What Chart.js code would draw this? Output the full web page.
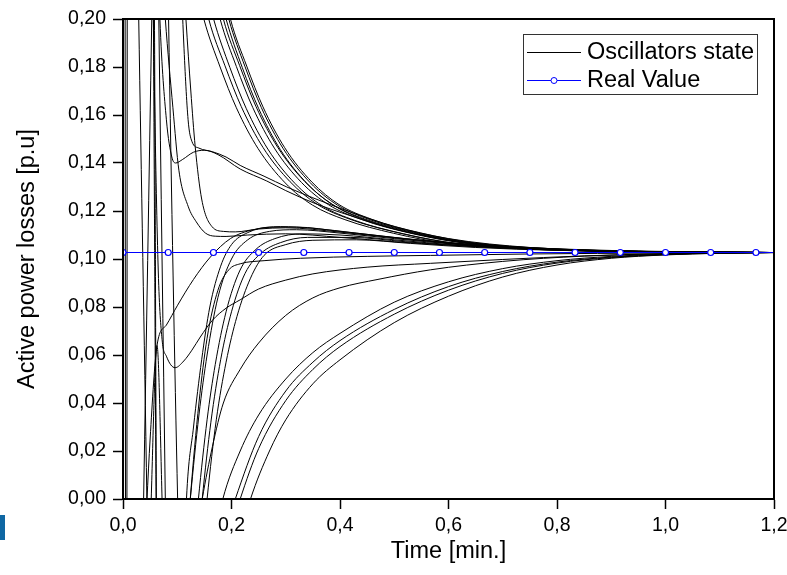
<!DOCTYPE html>
<html>
<head>
<meta charset="utf-8">
<script src="https://cdn.jsdelivr.net/npm/chart.js@4.4.1/dist/chart.umd.min.js"></script>
<style>
  html, body { margin: 0; padding: 0; background: #fff; }
  #wrap { position: relative; width: 787px; height: 575px; }
  #mark { position: absolute; left: 0; top: 515px; width: 5px; height: 25px; background: #0f67a3; }
</style>
</head>
<body>
<div id="wrap">
  <canvas id="chart" width="787" height="575"></canvas>
  <div id="mark"></div>
</div>
<script>
// time [min] / active power losses [p.u] pairs

// Real Value (one marker every 5 s)
const realTimes = [0, 0.0833, 0.1667, 0.25, 0.3333, 0.4167, 0.5, 0.5833, 0.6667, 0.75, 0.8333, 0.9167, 1.0, 1.0833, 1.1667, 1.2];
const realValues = [0.1027, 0.1027, 0.1027, 0.1027, 0.1027, 0.1027, 0.1027, 0.1027, 0.1027, 0.1027, 0.1027, 0.1027, 0.1027, 0.1027, 0.1027, 0.1027];

// curves coming down from above
const upperCurves = [
  [[0.099,0.251],[0.129,0.220],[0.149,0.200],[0.179,0.180],[0.209,0.163],[0.249,0.146],[0.299,0.1317],[0.349,0.1225],[0.409,0.1164],[0.499,0.1107],[0.599,0.1065],[0.749,0.1041],[0.949,0.1030],[1.2,0.1027]],
  [[0.108,0.252],[0.138,0.221],[0.158,0.200],[0.188,0.1805],[0.218,0.1635],[0.258,0.1465],[0.308,0.1322],[0.358,0.1228],[0.418,0.1166],[0.508,0.1109],[0.608,0.1066],[0.758,0.1042],[0.958,0.1030],[1.2,0.1027]],
  [[0.117,0.250],[0.147,0.219],[0.167,0.200],[0.197,0.1798],[0.227,0.1628],[0.267,0.1458],[0.317,0.1315],[0.367,0.1222],[0.427,0.1161],[0.517,0.1105],[0.617,0.1064],[0.767,0.1040],[0.967,0.1030],[1.2,0.1027]],
  [[0.129,0.251],[0.159,0.220],[0.179,0.200],[0.209,0.1802],[0.239,0.1632],[0.279,0.1462],[0.329,0.1319],[0.379,0.1226],[0.439,0.1165],[0.529,0.1108],[0.629,0.1066],[0.779,0.1041],[0.979,0.1030],[1.2,0.1027]],
  [[0.135,0.252],[0.165,0.221],[0.185,0.200],[0.215,0.1806],[0.245,0.1636],[0.285,0.1466],[0.335,0.1323],[0.385,0.1229],[0.445,0.1167],[0.535,0.1110],[0.635,0.1067],[0.785,0.1042],[0.985,0.1030],[1.2,0.1027]],
  [[0.140,0.250],[0.170,0.219],[0.190,0.200],[0.220,0.1797],[0.250,0.1627],[0.290,0.1456],[0.340,0.1313],[0.390,0.1221],[0.450,0.1160],[0.540,0.1104],[0.640,0.1064],[0.790,0.1040],[0.990,0.1030],[1.2,0.1027]],
  [[0.145,0.251],[0.175,0.220],[0.195,0.200],[0.225,0.1801],[0.255,0.1631],[0.295,0.1461],[0.345,0.1318],[0.395,0.1225],[0.455,0.1164],[0.545,0.1107],[0.645,0.1066],[0.795,0.1041],[0.995,0.1030],[1.2,0.1027]],
  [[0.148,0.252],[0.178,0.221],[0.198,0.200],[0.228,0.1804],[0.258,0.1634],[0.298,0.1464],[0.348,0.1321],[0.398,0.1227],[0.458,0.1166],[0.548,0.1109],[0.648,0.1067],[0.798,0.1042],[0.998,0.1030],[1.2,0.1027]]
];

// the two curves with a bump near 0,145
const humpCurves = [
  [[0.055,0.30],[0.068,0.20],[0.08,0.158],[0.09,0.1425],[0.097,0.140],[0.11,0.1415],[0.13,0.1445],[0.15,0.1453],[0.175,0.1435],[0.216,0.1375],[0.265,0.1325],[0.3,0.1285],[0.35,0.1235],[0.42,0.118],[0.5,0.1125],[0.6,0.108],[0.75,0.1045],[0.95,0.1031],[1.2,0.1027]],
  [[0.1,0.26],[0.112,0.19],[0.12,0.158],[0.127,0.149],[0.14,0.1462],[0.165,0.1447],[0.19,0.1425],[0.216,0.139],[0.26,0.1345],[0.302,0.130],[0.35,0.1255],[0.42,0.1195],[0.5,0.1135],[0.6,0.1085],[0.75,0.1048],[0.95,0.1032],[1.2,0.1027]]
];

// falling onto the 0,11 shelf
const fallCurves = [
  [[0.055,0.28],[0.078,0.20],[0.092,0.163],[0.103,0.137],[0.12,0.122],[0.135,0.1155],[0.152,0.1108],[0.17,0.1095],[0.19,0.1094],[0.23,0.110],[0.3,0.1105],[0.4,0.109],[0.5,0.1072],[0.6,0.1058],[0.75,0.1043],[0.95,0.1032],[1.2,0.1027]],
  [[0.1,0.26],[0.116,0.20],[0.125,0.17],[0.133,0.147],[0.145,0.125],[0.164,0.1135],[0.185,0.1115],[0.207,0.1113],[0.25,0.1125],[0.3,0.113],[0.4,0.1112],[0.5,0.1088],[0.6,0.1068],[0.75,0.1047],[0.95,0.1033],[1.2,0.1027]]
];

// rising from below and overshooting
const overshootCurves = [
  [[0.038,-0.03],[0.05,0.025],[0.0627,0.064],[0.08,0.0725],[0.1,0.0805],[0.13,0.0915],[0.161,0.1008],[0.198,0.1085],[0.24,0.1122],[0.29,0.1135],[0.35,0.1128],[0.43,0.1108],[0.53,0.1082],[0.65,0.1057],[0.8,0.1039],[1.0,0.103],[1.2,0.1027]],
  [[0.08,0.26],[0.084,0.2],[0.1007,0.0],[0.108,-0.06],[0.117,0],[0.13,0.03],[0.145,0.058],[0.16,0.08],[0.18,0.097],[0.2,0.106],[0.23,0.111],[0.27,0.1132],[0.32,0.1133],[0.4,0.1115],[0.5,0.109],[0.62,0.1063],[0.78,0.1042],[1.0,0.103],[1.2,0.1027]],
  [[0.112,-0.03],[0.124,0],[0.14,0.035],[0.155,0.06],[0.175,0.084],[0.2,0.1],[0.23,0.108],[0.27,0.1115],[0.32,0.1122],[0.4,0.1108],[0.5,0.1085],[0.62,0.106],[0.78,0.1041],[1.0,0.103],[1.2,0.1027]],
  [[0.127,-0.03],[0.139,0],[0.155,0.033],[0.17,0.056],[0.19,0.078],[0.215,0.095],[0.245,0.104],[0.28,0.1085],[0.33,0.1105],[0.4,0.11],[0.5,0.108],[0.62,0.1057],[0.78,0.104],[1.0,0.103],[1.2,0.1027]],
  [[0.134,-0.03],[0.146,0],[0.162,0.032],[0.18,0.058],[0.2,0.078],[0.225,0.094],[0.255,0.1025],[0.29,0.1068],[0.34,0.109],[0.42,0.109],[0.52,0.1072],[0.64,0.1052],[0.8,0.1037],[1.0,0.1029],[1.2,0.1027]],
  [[0.143,-0.03],[0.155,0],[0.172,0.033],[0.19,0.057],[0.21,0.076],[0.235,0.092],[0.26,0.1015],[0.3,0.106],[0.35,0.1078],[0.43,0.108],[0.53,0.1065],[0.65,0.1048],[0.8,0.1036],[1.0,0.1029],[1.2,0.1027]]
];

// approaching from below without overshoot
const lowerCurves = [
  [[0.112,-0.04],[0.124,0],[0.14,0.04],[0.155,0.067],[0.175,0.087],[0.195,0.0955],[0.216,0.098],[0.26,0.0993],[0.327,0.1003],[0.45,0.1011],[0.567,0.1015],[0.75,0.1021],[1.0,0.1025],[1.2,0.1027]],
  [[0.05,0.3],[0.058,0.17],[0.065,0.095],[0.072,0.0665],[0.08,0.0595],[0.096,0.0547],[0.112,0.0575],[0.127,0.062],[0.1425,0.0675],[0.165,0.0745],[0.19,0.0795],[0.216,0.083],[0.25,0.0875],[0.3,0.0912],[0.35,0.0938],[0.45,0.0966],[0.567,0.0982],[0.7,0.0998],[0.85,0.1013],[1.0,0.1022],[1.2,0.1027]],
  [[0.125,-0.03],[0.146,0],[0.165,0.022],[0.185,0.04],[0.216,0.054],[0.25,0.065],[0.3,0.0765],[0.35,0.0838],[0.4,0.088],[0.47,0.0915],[0.567,0.0955],[0.7,0.099],[0.85,0.1012],[1.0,0.1022],[1.2,0.1027]],
  [[0.17,-0.015],[0.184,0],[0.216,0.02],[0.25,0.035],[0.3,0.05],[0.35,0.061],[0.4,0.069],[0.5,0.082],[0.6,0.0905],[0.7,0.096],[0.8,0.0993],[0.9,0.1011],[1.0,0.102],[1.1,0.1025],[1.2,0.1027]],
  [[0.19,-0.012],[0.207,0],[0.25,0.026],[0.3,0.045],[0.35,0.057],[0.4,0.066],[0.5,0.079],[0.6,0.0885],[0.7,0.0948],[0.8,0.0987],[0.9,0.1008],[1.0,0.1019],[1.1,0.1025],[1.2,0.1027]],
  [[0.2,-0.012],[0.216,0],[0.25,0.021],[0.3,0.041],[0.35,0.054],[0.4,0.0635],[0.5,0.077],[0.6,0.087],[0.7,0.094],[0.8,0.0983],[0.9,0.1006],[1.0,0.1018],[1.1,0.1024],[1.2,0.1027]],
  [[0.22,-0.012],[0.235,0],[0.27,0.02],[0.3,0.033],[0.35,0.048],[0.4,0.058],[0.5,0.0735],[0.6,0.0845],[0.7,0.0925],[0.8,0.0975],[0.9,0.1003],[1.0,0.1017],[1.1,0.1024],[1.2,0.1027]]
];

// fast swings during the first seconds
const earlyCurves = [
  [[0.003,0.5],[0.0055,-0.3]],
  [[0.0065,-0.3],[0.0085,0.5]],
  [[0.022,0.3],[0.029,0.2],[0.044,0.0],[0.05,-0.09]],
  [[0.032,-0.08],[0.038,0],[0.053,0.2],[0.058,0.27]],
  [[0.053,0.3],[0.056,0.2],[0.061,0.0],[0.064,-0.07]],
  [[0.054,0.3],[0.058,0.2],[0.0615,0.0],[0.064,-0.06]],
  [[0.045,-0.06],[0.052,0.0],[0.0627,0.064],[0.072,0.0],[0.078,-0.06]],
  [[0.062,0.27],[0.066,0.2],[0.078,0.0],[0.082,-0.07]]
];

const FONT = "'Liberation Sans', Arial, sans-serif";
const legendLabels = ['Oscillators state', 'Real Value'];

const framePlugin = {
  id: 'frame',
  afterDatasetsDraw(chart) {
    const { ctx, chartArea: a } = chart;
    ctx.save();
    ctx.strokeStyle = '#000';
    ctx.lineWidth = 2;
    ctx.strokeRect(a.left, a.top, a.right - a.left, a.bottom - a.top);
    ctx.restore();
  }
};

// legend box with line samples like the original
const legendPlugin = {
  id: 'boxLegend',
  afterDraw(chart) {
    const ctx = chart.ctx;
    ctx.save();
    ctx.fillStyle = '#fff';
    ctx.fillRect(523, 34, 234, 60);
    ctx.strokeStyle = '#333';
    ctx.lineWidth = 1;
    ctx.strokeRect(523.5, 34.5, 234, 60);

    ctx.beginPath();
    ctx.moveTo(527, 52.5);
    ctx.lineTo(581, 52.5);
    ctx.strokeStyle = '#000';
    ctx.stroke();

    ctx.beginPath();
    ctx.moveTo(527, 80.5);
    ctx.lineTo(581, 80.5);
    ctx.strokeStyle = '#0000ff';
    ctx.stroke();
    ctx.beginPath();
    ctx.arc(554, 80.5, 3, 0, Math.PI * 2);
    ctx.fillStyle = '#fff';
    ctx.fill();
    ctx.stroke();

    ctx.fillStyle = '#000';
    ctx.font = '23.5px ' + FONT;
    ctx.textBaseline = 'middle';
    ctx.fillText(legendLabels[0], 587, 53);
    ctx.fillText(legendLabels[1], 587, 81);
    ctx.restore();
  }
};

const blackSets = [...upperCurves, ...humpCurves, ...fallCurves, ...overshootCurves, ...lowerCurves, ...earlyCurves]
  .map((pts, i) => ({
    label: i === 0 ? legendLabels[0] : '',
    data: pts.map(([x, y]) => ({ x, y })),
    borderColor: '#000',
    borderWidth: 1,
    pointRadius: 0,
    fill: false,
    cubicInterpolationMode: 'monotone',
    order: 1
  }));

const realSet = {
  label: legendLabels[1],
  data: realTimes.map((t, i) => ({ x: t, y: realValues[i] })),
  borderColor: '#0000ff',
  borderWidth: 1.2,
  pointRadius: ctx => (ctx.dataIndex < realTimes.length - 1 ? 3 : 0),
  pointBackgroundColor: '#fff',
  pointBorderColor: '#0000ff',
  pointBorderWidth: 1.2,
  fill: false,
  order: 0
};

new Chart(document.getElementById('chart'), {
  type: 'line',
  data: { datasets: [realSet, ...blackSets] },
  options: {
    responsive: false,
    animation: false,
    layout: { padding: { left: 0, right: 13, top: 19, bottom: 0 } },
    plugins: { legend: { display: false }, tooltip: { enabled: false } },
    scales: {
      x: {
        type: 'linear', min: 0, max: 1.2,
        ticks: {
          stepSize: 0.2, color: '#000', padding: 5, maxRotation: 0,
          font: { family: FONT, size: 19.5 },
          callback: v => v.toFixed(1).replace('.', ',')
        },
        grid: { drawOnChartArea: false, drawTicks: true, tickLength: 10, color: '#000', tickWidth: 1.5 },
        border: { display: true, color: '#000', width: 2 },
        title: { display: true, text: 'Time [min.]', color: '#000', font: { family: FONT, size: 23.5 }, padding: { top: 0, bottom: 9 } },
        afterFit: s => { s.height = 76; s.paddingLeft = 0; s.paddingRight = 0; }
      },
      y: {
        type: 'linear', min: 0, max: 0.2,
        ticks: {
          stepSize: 0.02, color: '#000', padding: 7,
          font: { family: FONT, size: 19.5 },
          callback: v => v.toFixed(2).replace('.', ',')
        },
        grid: { drawOnChartArea: false, drawTicks: true, tickLength: 10, color: '#000', tickWidth: 1.5 },
        border: { display: true, color: '#000', width: 2 },
        title: { display: true, text: 'Active power losses [p.u]', color: '#000', font: { family: FONT, size: 23.5 }, padding: { top: 13, bottom: 0 } },
        afterFit: s => { s.width = 123; s.paddingTop = 0; s.paddingBottom = 0; }
      }
    }
  },
  plugins: [framePlugin, legendPlugin]
});
</script>
</body>
</html>
